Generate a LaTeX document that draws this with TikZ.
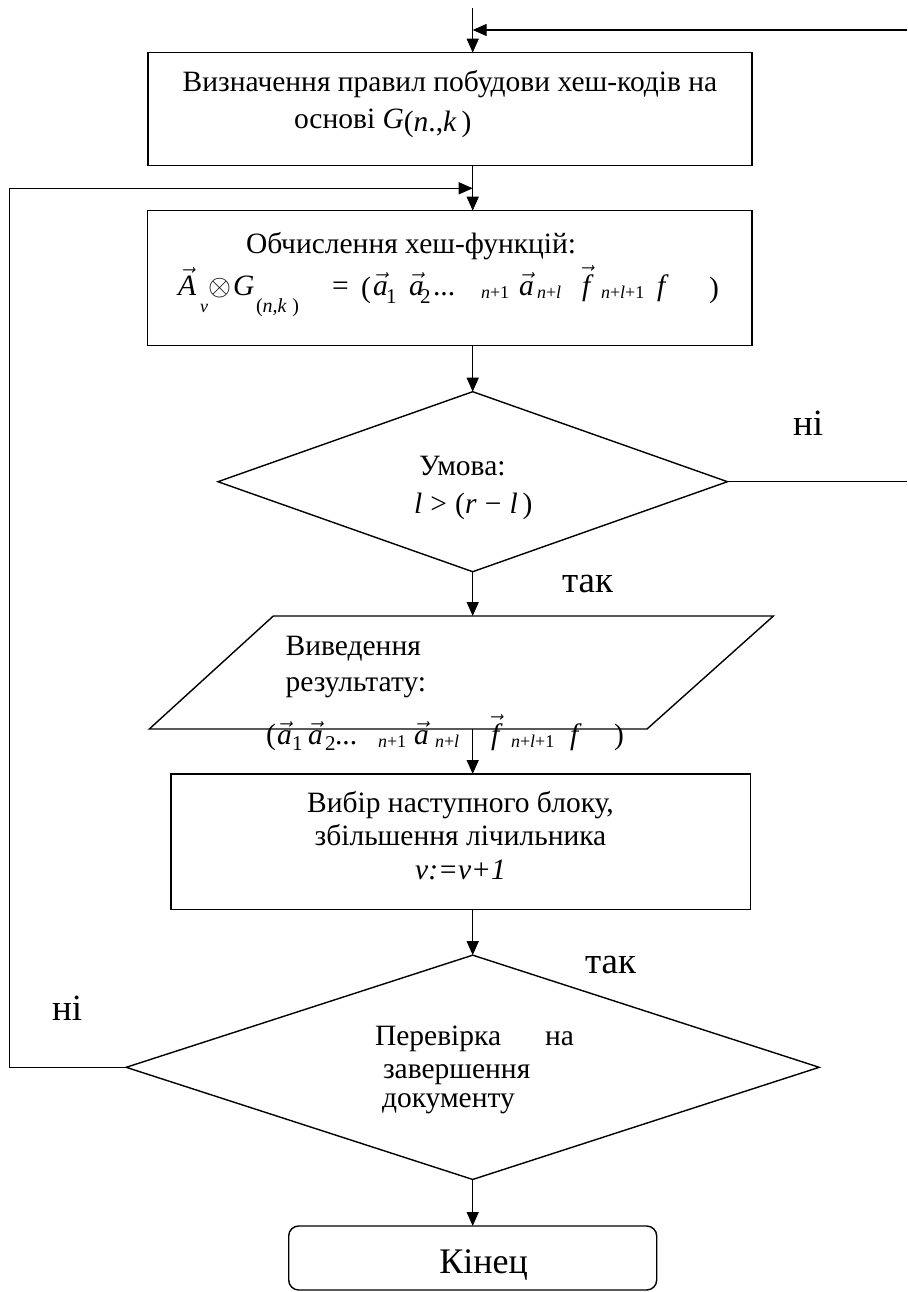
\documentclass[tikz,border=0pt]{standalone}
\usepackage{fix-cm}
\usepackage{fontspec}
\setmainfont{Liberation Serif}
\usetikzlibrary{arrows.meta,shapes.geometric}

% vector letter set in the italic text face
\newcommand{\vv}[1]{$\vec{\textit{#1}}$}

\tikzset{
  ln/.style={line width=1.4pt},
  arr/.style={ln, -{Triangle[length=14pt,width=12pt]}},
  procbox/.style={ln, draw, rectangle, inner sep=0pt, outer sep=0pt},
  decision/.style={ln, draw, diamond, inner sep=0pt, outer sep=0pt},
  txt/.style={inner sep=0pt, outer sep=0pt, anchor=base west,
    font=\fontsize{29.5}{35}\selectfont},
  ctxt/.style={txt, anchor=base},
  lbl/.style={txt, font=\fontsize{37}{44}\selectfont},
  idx/.style={txt, font=\fontsize{18}{22}\selectfont},
  bigidx/.style={txt, font=\fontsize{20}{24}\selectfont},
  dig/.style={txt, font=\fontsize{21}{25}\selectfont},
}

\begin{document}
\begin{tikzpicture}[x=1pt,y=-1pt]
\useasboundingbox (0,0) rectangle (907,1292);

% ---- blocks ----
\node[procbox, minimum width=604pt, minimum height=113pt] (def) at (450,109.2) {};
\node[procbox, minimum width=604.5pt, minimum height=135pt] (hash) at (449.75,278.2) {};
\node[decision, minimum width=509.5pt, minimum height=180pt] (cond) at (472.7,481.7) {};
\node[procbox, minimum width=579.7pt, minimum height=135.3pt] (next) at (460.85,841.65) {};
\node[decision, minimum width=693pt, minimum height=224.3pt] (fin) at (472.7,1067.3) {};
\node[procbox, rounded corners=10pt, minimum width=368pt, minimum height=64pt] (end) at (472.7,1258) {};

% ---- output parallelogram ----
\coordinate (outTL) at (273.3,616);
\coordinate (outTR) at (773.4,616);
\coordinate (outBR) at (647,729);
\coordinate (outBL) at (149.3,729);
\draw[ln] (outTL) -- (outTR) -- (outBR) -- (outBL) -- cycle;

% ---- free ends of the loops ----
\coordinate (entry) at (472.7,8);
\coordinate (loopin) at (907,30);
\coordinate (rail) at (9.3,188.3);
\coordinate (merge) at (472.7,188.3);

% ---- connectors ----
\draw[arr] (entry) -- (entry |- def.north);
\draw[arr] (loopin) -- (loopin -| entry);
\draw[arr] (def.south -| entry) -- (hash.north -| entry);
\draw[arr] (fin.west) -| (rail) -- (merge);
\draw[arr] (hash.south -| entry) -- (cond.north);
\draw[ln] (cond.east) -- (cond.east -| loopin);
\draw[arr] (cond.south) -- (cond.south |- outTL);
\draw[arr] (cond.south |- outBL) -- (next.north -| cond.south);
\draw[arr] (next.south -| cond.south) -- (fin.north);
\draw[arr] (fin.south) -- (end.north);

% ---- block 1 text ----
\node[txt] (d1) at (182.7,91.7) {Визначення правил побудови хеш-кодів на};
\node[txt] (d2) at (294,129) {основі\ \textit{G}\raisebox{-3pt}{(\textit{n}.,\textit{k}\,)}};

% ---- block 2 text and formula ----
\node[txt] (h1) at (246,253.3) {Обчислення хеш-функцій:};
\node[txt] (hA) at (178,295) {\vv{A}};
\node[idx] (hv) at (200,312) {\textit{v}};
\node[txt] (hx) at (208,295) {$\otimes$};
\node[txt] (hG) at (233,295) {\textit{G}};
\node[bigidx] (hnk) at (256,312) {(\textit{n},\textit{k}\;)};
\node[txt] (heq) at (332,295) {=};
\node[txt] (hlp) at (361,297) {(};
\node[txt] (ha1) at (373,295) {\vv{a}};
\node[dig] (h1i) at (386,303) {1};
\node[txt] (ha2) at (409,295) {\vv{a}};
\node[dig] (h2i) at (420,303) {2};
\node[txt] (hdots) at (433,295) {...};
\node[idx] (hn1) at (481,298) {\textit{n}+1};
\node[txt] (hal) at (519,295) {\vv{a}};
\node[idx] (hnl) at (537,298) {\textit{n}+\textit{l}};
\node[txt] (hf) at (582,295) {\vv{f}};
\node[idx] (hnl1) at (601,298) {\textit{n}+\textit{l}+1};
\node[txt] (hff) at (657,295) {\textit{f}};
\node[txt] (hrp) at (709,297) {)};

% ---- condition ----
\node[txt] (c1) at (419,475) {Умова:};
\node[txt] (c2) at (414,513) {\textit{l}\;>\;(\textit{r}\;−\;\textit{l}\,)};
\node[lbl] (no1) at (793,435) {ні};
\node[lbl] (yes1) at (562,592) {так};

% ---- output ----
\node[txt] (o1) at (285.7,655) {Виведення};
\node[txt] (o2) at (285.7,691.7) {результату:};
\node[txt] (olp) at (266,744) {(};
\node[txt] (oa1) at (277,744) {\vv{a}};
\node[dig] (o1i) at (292,750) {1};
\node[txt] (oa2) at (308,744) {\vv{a}};
\node[dig] (o2i) at (325,750) {2};
\node[txt] (odots) at (335,744) {...};
\node[idx] (on1) at (378,747) {\textit{n}+1};
\node[txt] (oal) at (414,744) {\vv{a}};
\node[idx] (onl) at (435,747) {\textit{n}+\textit{l}};
\node[txt] (of) at (491,744) {\vv{f}};
\node[idx] (onl1) at (511,747) {\textit{n}+\textit{l}+1};
\node[txt] (off) at (570,744) {\textit{f}};
\node[txt] (orp) at (614,744) {)};

% ---- next block ----
\node[ctxt] (n1) at (460.5,812) {Вибір наступного блоку,};
\node[ctxt] (n2) at (460.5,845) {збільшення лічильника};
\node[ctxt] (n3) at (460.5,879) {\textit{v:=v+1}};

% ---- final check ----
\node[txt] (f1) at (375,1045) {Перевірка\hspace{44pt}на};
\node[txt] (f2) at (383,1078) {завершення};
\node[txt] (f3) at (382,1107) {документу};
\node[lbl] (yes2) at (585,973.3) {так};
\node[lbl] (no2) at (52,1020.7) {ні};

% ---- terminator ----
\node[lbl, font=\fontsize{36}{43}\selectfont] (e1) at (439.3,1273.3) {Кінец};

\end{tikzpicture}
\end{document}
